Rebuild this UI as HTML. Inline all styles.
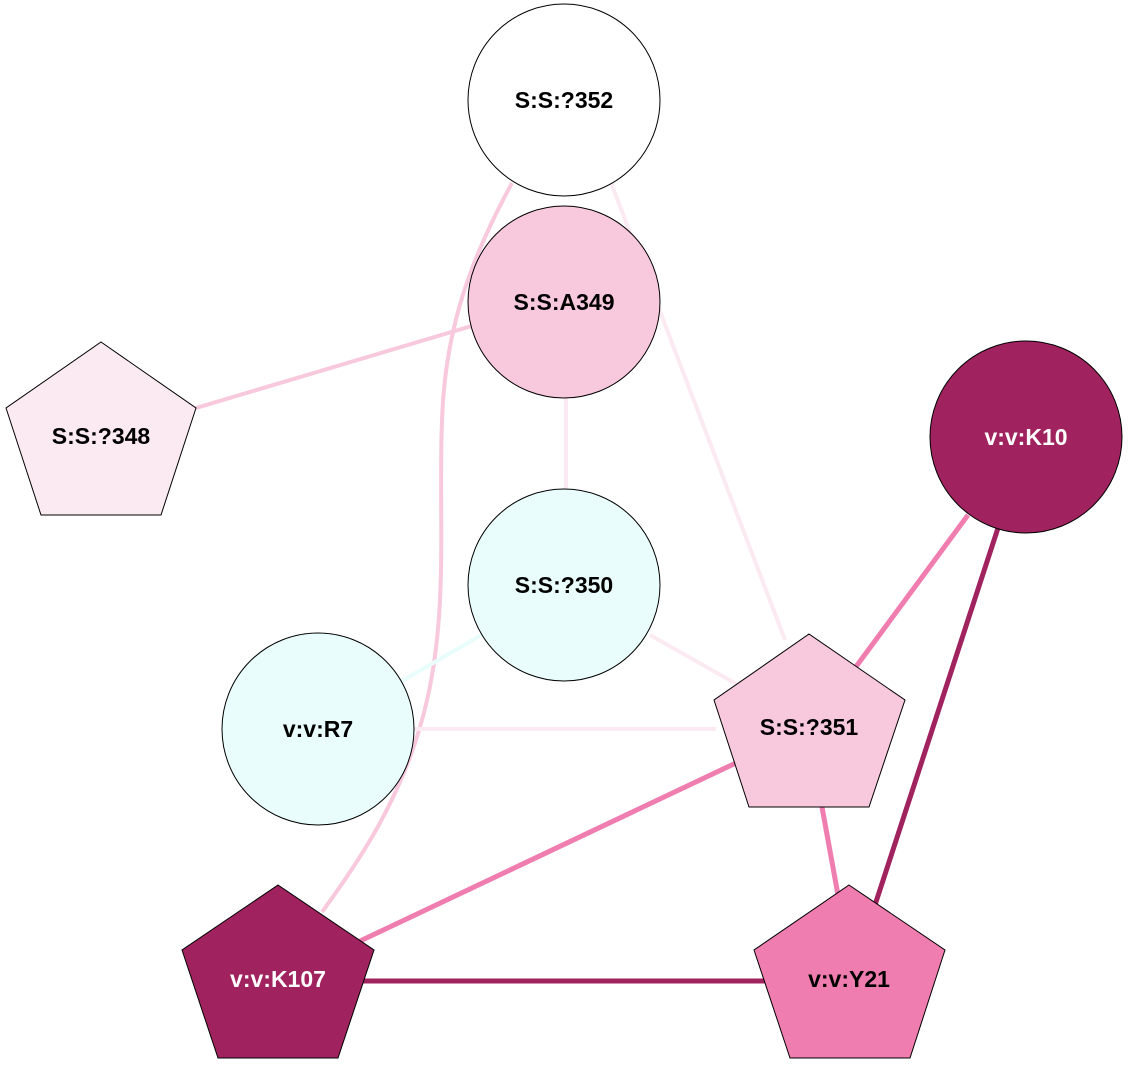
<!DOCTYPE html>
<html><head><style>body{margin:0;background:#fff}svg{display:block}text{font-family:"Liberation Sans",Arial,sans-serif;font-weight:bold;font-size:23px;text-anchor:middle;dominant-baseline:central}</style></head>
<body>
<svg width="1128" height="1083" viewBox="0 0 1128 1083">
<g fill="none" stroke-linecap="butt">
<path d="M512,183 C470,260 445,330 442,420 C438,520 450,620 422,720 C400,800 360,860 322,912" stroke="#f8c8dc" stroke-width="4"/>
<line x1="610" y1="180" x2="785" y2="640" stroke="#fbeaf1" stroke-width="4"/>
<line x1="196" y1="408" x2="475" y2="325" stroke="#f8c8dc" stroke-width="4"/>
<line x1="566" y1="398" x2="566" y2="490" stroke="#fbeaf1" stroke-width="4"/>
<line x1="650" y1="635" x2="740" y2="686" stroke="#fbeaf1" stroke-width="4"/>
<line x1="395" y1="685" x2="485" y2="633" stroke="#e8fdfc" stroke-width="4"/>
<line x1="410" y1="729" x2="716" y2="729" stroke="#fbeaf1" stroke-width="4"/>
<line x1="968" y1="515" x2="855" y2="668" stroke="#f07daf" stroke-width="5"/>
<line x1="998" y1="528" x2="875" y2="905" stroke="#a0235f" stroke-width="5"/>
<line x1="738" y1="762" x2="358" y2="942" stroke="#f07daf" stroke-width="5"/>
<line x1="822" y1="807" x2="838" y2="895" stroke="#f07daf" stroke-width="5"/>
<line x1="362" y1="981" x2="765" y2="981" stroke="#a0235f" stroke-width="5"/>
</g>
<g stroke="#000" stroke-width="1">
<circle cx="564" cy="100" r="96" fill="#fff"/>
<circle cx="564" cy="302" r="96" fill="#f8c8dc"/>
<polygon points="101,342 196,408 161,515 41,515 6,408" fill="#fbeaf1"/>
<circle cx="1026" cy="437" r="96" fill="#a0235f"/>
<circle cx="564" cy="585" r="96" fill="#e8fdfc"/>
<circle cx="318" cy="729" r="96" fill="#e8fdfc"/>
<polygon points="809,634 905,700 869,807 749,807 714,700" fill="#f8c8dc"/>
<polygon points="278,885 374,950 338,1058 218,1058 182,950" fill="#a0235f"/>
<polygon points="849,885 945,950 910,1058 790,1058 754,950" fill="#f07daf"/>
</g>
<text x="564" y="100">S:S:?352</text>
<text x="564" y="302">S:S:A349</text>
<text x="101" y="436">S:S:?348</text>
<text x="1026" y="437" fill="#fff">v:v:K10</text>
<text x="564" y="585">S:S:?350</text>
<text x="318" y="729">v:v:R7</text>
<text x="809" y="727">S:S:?351</text>
<text x="278" y="979" fill="#fff">v:v:K107</text>
<text x="849" y="979">v:v:Y21</text>
</svg>
</body></html>
